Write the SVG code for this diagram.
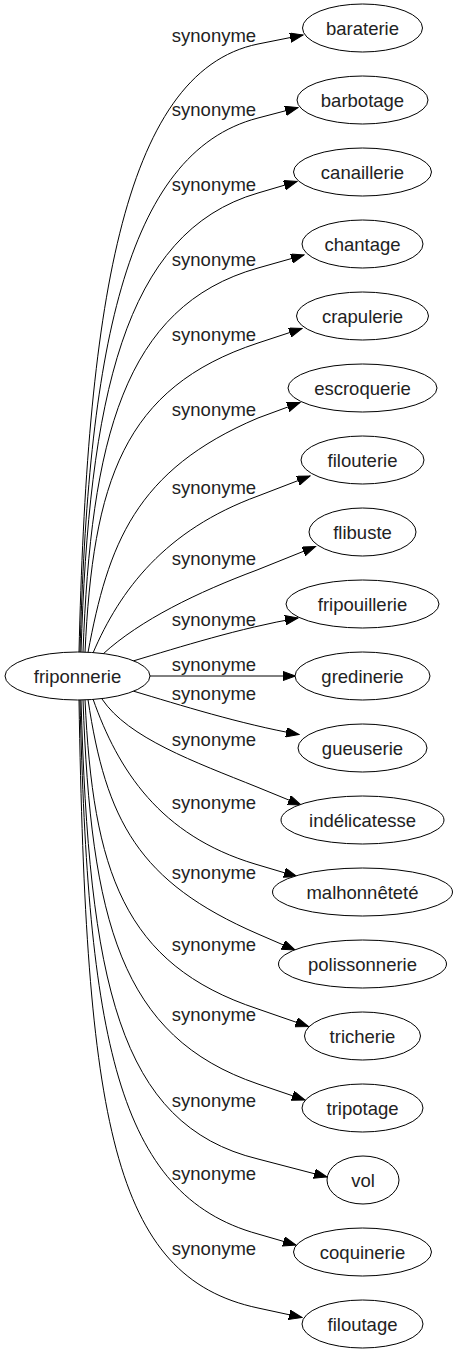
<svg xmlns="http://www.w3.org/2000/svg" width="458" height="1355" viewBox="0 0 458 1355">
<defs>
<marker id="arr" markerWidth="14" markerHeight="10" refX="13" refY="4.75" orient="auto" markerUnits="userSpaceOnUse">
<path d="M0,0 L13,4.75 L0,9.5 z" fill="#000" stroke="#000" stroke-width="1"/>
</marker>
<style>
.n ellipse{fill:#fff;stroke:#000;stroke-width:1}
.n text,.lbl{font-family:"Liberation Sans",Arial,sans-serif;font-size:18.5px;fill:#222;text-anchor:middle}
.e path{fill:none;stroke:#000;stroke-width:1;marker-end:url(#arr)}
</style>
</defs>
<rect width="458" height="1355" fill="#fff"/>
<g id="edges" class="e">
<path d="M79,652 C87,318 120,72 258,44 L303,35"/>
<path d="M80,652 C88,358 123,153 258,118 L298,107.5"/>
<path d="M81,652 C89,400 123,232 258,193 L297,181.5"/>
<path d="M83,652 C91,441 123,306 258,268 L304,255"/>
<path d="M85,652.5 C93,482 123,387.5 258,343 L302,328.5"/>
<path d="M88,652.5 C108,545 135,470 258,418 L300,402.5"/>
<path d="M93,653 C120,590 165,530 258,496 L310,476"/>
<path d="M103,654 C140,620 198,592 257,570 L315.5,546.5"/>
<path d="M133,661 C180,647 240,628 298,618"/>
<path d="M150,676 L295.5,676"/>
<path d="M133,691 C180,705 240,724 299,734.5"/>
<path d="M102,699 C128,738 195,762 257,787 L301,805"/>
<path d="M93,699 C118,770 160,835.5 255,864 L297,876.5"/>
<path d="M88,699.5 C106,820 138,882 258,934 L295,950"/>
<path d="M85,699.5 C93,870 123,964.5 258,1009 L308.5,1026.5"/>
<path d="M83,700 C91,920 120,1037 258,1084 L305,1100"/>
<path d="M81,700 C89,980 118,1125 258,1159 L327,1177"/>
<path d="M80,700 C88,1035 116,1195 258,1234 L296,1245"/>
<path d="M79,700 C86,1120 112,1277 258,1308 L302,1317.5"/>
</g>
<g id="labels">
<text class="lbl" x="214" y="42">synonyme</text>
<text class="lbl" x="214" y="116">synonyme</text>
<text class="lbl" x="214" y="191">synonyme</text>
<text class="lbl" x="214" y="266">synonyme</text>
<text class="lbl" x="214" y="341">synonyme</text>
<text class="lbl" x="214" y="416">synonyme</text>
<text class="lbl" x="214" y="494">synonyme</text>
<text class="lbl" x="214" y="565">synonyme</text>
<text class="lbl" x="214" y="626">synonyme</text>
<text class="lbl" x="214" y="671">synonyme</text>
<text class="lbl" x="214" y="700">synonyme</text>
<text class="lbl" x="214" y="746">synonyme</text>
<text class="lbl" x="214" y="809">synonyme</text>
<text class="lbl" x="214" y="879">synonyme</text>
<text class="lbl" x="214" y="951">synonyme</text>
<text class="lbl" x="214" y="1021">synonyme</text>
<text class="lbl" x="214" y="1107">synonyme</text>
<text class="lbl" x="214" y="1180">synonyme</text>
<text class="lbl" x="214" y="1255">synonyme</text>
</g>
<g id="friponnerie" class="n"><ellipse cx="77.5" cy="676" rx="72.5" ry="24"/><text x="77.5" y="682.5">friponnerie</text></g>
<g id="baraterie" class="n"><ellipse cx="362.5" cy="28" rx="60" ry="24"/><text x="362.5" y="34.5">baraterie</text></g>
<g id="barbotage" class="n"><ellipse cx="362.5" cy="100" rx="65.5" ry="24"/><text x="362.5" y="106.5">barbotage</text></g>
<g id="canaillerie" class="n"><ellipse cx="362.5" cy="172" rx="69" ry="24"/><text x="362.5" y="178.5">canaillerie</text></g>
<g id="chantage" class="n"><ellipse cx="362.5" cy="244" rx="60.5" ry="24"/><text x="362.5" y="250.5">chantage</text></g>
<g id="crapulerie" class="n"><ellipse cx="362.5" cy="316" rx="66" ry="24"/><text x="362.5" y="322.5">crapulerie</text></g>
<g id="escroquerie" class="n"><ellipse cx="362.5" cy="388" rx="74.5" ry="24"/><text x="362.5" y="394.5">escroquerie</text></g>
<g id="filouterie" class="n"><ellipse cx="362.5" cy="460" rx="61.5" ry="24"/><text x="362.5" y="466.5">filouterie</text></g>
<g id="flibuste" class="n"><ellipse cx="362.5" cy="532" rx="53.5" ry="24"/><text x="362.5" y="538.5">flibuste</text></g>
<g id="fripouillerie" class="n"><ellipse cx="362.5" cy="604" rx="76.5" ry="24"/><text x="362.5" y="610.5">fripouillerie</text></g>
<g id="gredinerie" class="n"><ellipse cx="362.5" cy="676" rx="67.5" ry="24"/><text x="362.5" y="682.5">gredinerie</text></g>
<g id="gueuserie" class="n"><ellipse cx="362.5" cy="748" rx="64.5" ry="24"/><text x="362.5" y="754.5">gueuserie</text></g>
<g id="indelicatesse" class="n"><ellipse cx="362.5" cy="820" rx="81.5" ry="24"/><text x="362.5" y="826.5">indélicatesse</text></g>
<g id="malhonnetete" class="n"><ellipse cx="362.5" cy="892" rx="90" ry="24"/><text x="362.5" y="898.5">malhonnêteté</text></g>
<g id="polissonnerie" class="n"><ellipse cx="362.5" cy="964" rx="84" ry="24"/><text x="362.5" y="970.5">polissonnerie</text></g>
<g id="tricherie" class="n"><ellipse cx="362.5" cy="1036" rx="58" ry="24"/><text x="362.5" y="1042.5">tricherie</text></g>
<g id="tripotage" class="n"><ellipse cx="362.5" cy="1108" rx="60.5" ry="24"/><text x="362.5" y="1114.5">tripotage</text></g>
<g id="vol" class="n"><ellipse cx="363" cy="1180" rx="36" ry="24"/><text x="363" y="1186.5">vol</text></g>
<g id="coquinerie" class="n"><ellipse cx="362.5" cy="1252" rx="69" ry="24"/><text x="362.5" y="1258.5">coquinerie</text></g>
<g id="filoutage" class="n"><ellipse cx="362.5" cy="1324" rx="60.5" ry="24"/><text x="362.5" y="1330.5">filoutage</text></g>
</svg>
